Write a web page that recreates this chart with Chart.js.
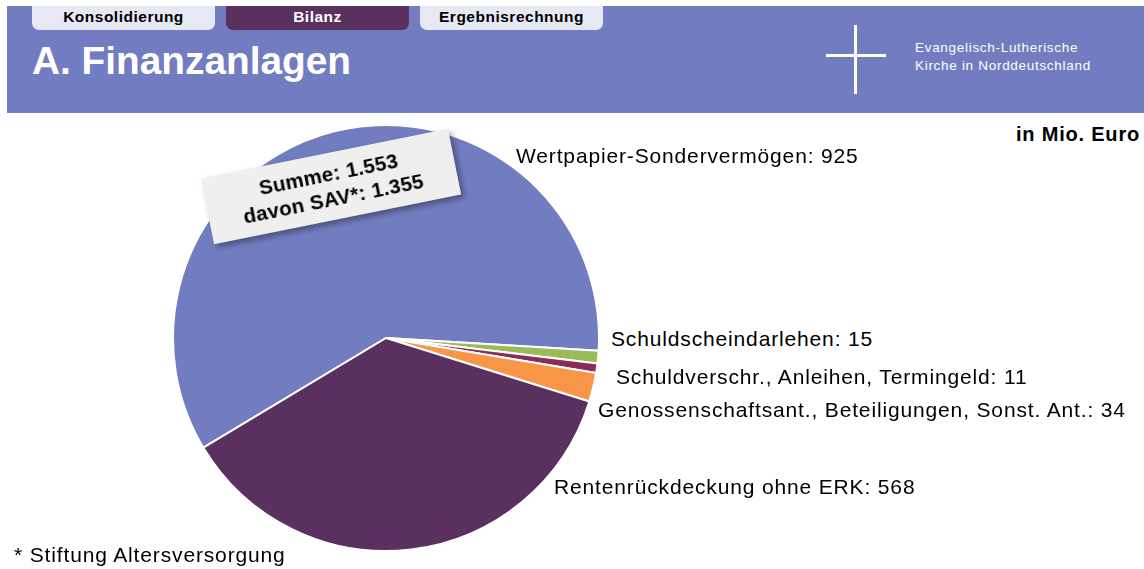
<!DOCTYPE html>
<html>
<head>
<meta charset="utf-8">
<script src="https://cdn.jsdelivr.net/npm/chart.js@4/dist/chart.umd.min.js"></script>
<style>
  body { margin: 0; width: 1144px; height: 569px; position: relative; overflow: hidden; background: #fff; font-family: "Liberation Sans", Arial, sans-serif; }
  .banner { position: absolute; left: 7px; top: 6px; width: 1137px; height: 107px; background: #717dc0; }
  .tab { position: absolute; top: 6px; height: 24px; width: 183px; border-radius: 0 0 7px 7px; text-align: center; font-weight: bold; font-size: 15.5px; letter-spacing: 0.5px; line-height: 22px; }
  .tab.light { background: #e6e8f4; color: #000; }
  .tab.dark { background: #5a305e; color: #fff; }
  .title { position: absolute; left: 32px; top: 39px; color: #fff; font-weight: bold; font-size: 38.8px; }
  .cross-v { position: absolute; left: 854px; top: 25px; width: 3px; height: 69px; background: #fff; }
  .cross-h { position: absolute; left: 826px; top: 54px; width: 60px; height: 3px; background: #fff; }
  .org { position: absolute; left: 915px; top: 39px; color: #fff; font-size: 13.5px; letter-spacing: 0.7px; line-height: 18px; }
  .unit { position: absolute; right: 4px; top: 123px; font-weight: bold; font-size: 20px; letter-spacing: 0.8px; }
  .lbl { position: absolute; font-size: 21px; letter-spacing: 0.85px; color: #000; white-space: nowrap; }
  .note { position: absolute; left: 14px; top: 543px; font-size: 21px; letter-spacing: 0.85px; }
  #pieWrap { position: absolute; left: 172px; top: 124px; width: 428px; height: 428px; }
  .sumBox { position: absolute; left: 205px; top: 153px; width: 252px; height: 67px; background: #efefef; transform: rotate(-11.4deg); box-shadow: 3px 4px 6px rgba(0,0,0,0.35); text-align: center; font-weight: bold; font-size: 20.5px; letter-spacing: 0.3px; line-height: 25px; padding-top: 8px; box-sizing: border-box; }
</style>
</head>
<body>
<div class="banner"></div>
<div class="tab light" style="left:32px">Konsolidierung</div>
<div class="tab dark" style="left:226px">Bilanz</div>
<div class="tab light" style="left:420px">Ergebnisrechnung</div>
<div class="title">A. Finanzanlagen</div>
<div class="cross-v"></div>
<div class="cross-h"></div>
<div class="org">Evangelisch-Lutherische<br>Kirche in Norddeutschland</div>
<div class="unit">in Mio. Euro</div>

<div id="pieWrap"><canvas id="pieChart"></canvas></div>
<div class="sumBox">Summe: 1.553<br>davon SAV*: 1.355</div>

<div class="lbl" style="left:516px; top:144px">Wertpapier-Sondervermögen: 925</div>
<div class="lbl" style="left:611px; top:327px">Schuldscheindarlehen: 15</div>
<div class="lbl" style="left:616px; top:365px">Schuldverschr., Anleihen, Termingeld: 11</div>
<div class="lbl" style="left:598px; top:398px">Genossenschaftsant., Beteiligungen, Sonst. Ant.: 34</div>
<div class="lbl" style="left:554px; top:475px">Rentenrückdeckung ohne ERK: 568</div>
<div class="note">* Stiftung Altersversorgung</div>

<script>
const categories = ["Wertpapier-Sondervermögen", "Schuldscheindarlehen", "Schuldverschr., Anleihen, Termingeld", "Genossenschaftsant., Beteiligungen, Sonst. Ant.", "Rentenrückdeckung ohne ERK"];
const values = [925, 15, 11, 34, 568];
const colors = ["#717dc0", "#9bbb59", "#8c2a58", "#f79646", "#5a305e"];

const ctx = document.getElementById("pieChart").getContext("2d");

new Chart(ctx, {
    type: "pie",
    data: {
        labels: categories,
        datasets: [{
            data: values,
            backgroundColor: colors,
            borderColor: "#ffffff",
            borderWidth: 2
        }]
    },
    options: {
        responsive: true,
        maintainAspectRatio: false,
        animation: false,
        rotation: 239,
        layout: { padding: 0 },
        plugins: {
            legend: { display: false },
            tooltip: { enabled: false }
        }
    }
});
</script>
</body>
</html>
